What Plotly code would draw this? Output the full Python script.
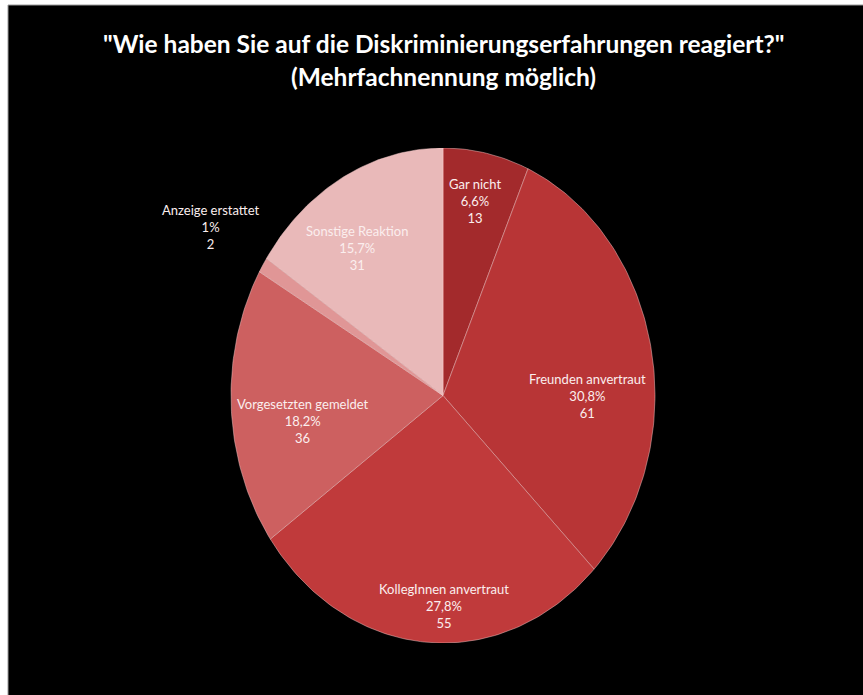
import numpy as np
import plotly.graph_objects as go

# Survey answers, clockwise from 12 o'clock
categories = ["Gar nicht", "Freunden anvertraut", "KollegInnen anvertraut",
              "Vorgesetzten gemeldet", "Anzeige erstattet", "Sonstige Reaktion"]
counts = [13, 61, 55, 36, 2, 31]
percent_labels = ["6,6%", "30,8%", "27,8%", "18,2%", "1%", "15,7%"]

colors = ["#a32a2c", "#b83536", "#c03a3b", "#cd6060", "#e09696", "#e9b9b9"]
# label placement: (angle nudge in degrees, radius as fraction of the pie)
label_place = [(-1, 0.80), (11, 0.68), (-5, 0.85), (-6, 0.67), (0, 1.29), (-6, 0.72)]

W, H = 863, 695
# pie centre and radii in pixels (the pie is drawn slightly taller than wide)
cx, cy, rx, ry = 443, 395.5, 212, 247.5
XSPAN = 1.6  # x axis reaches past the pie so outside labels stay visible

fig = go.Figure()

total = sum(counts)
fractions = [c / total for c in counts]
start = 0.0
mid_angles = []
for name, frac, col in zip(categories, fractions, colors):
    end = start + frac
    t = np.linspace(start, end, max(3, int(frac * 360))) * 2 * np.pi
    xs = np.concatenate([[0], np.sin(t), [0]])
    ys = np.concatenate([[0], np.cos(t), [0]])
    fig.add_trace(go.Scatter(
        x=xs, y=ys, mode="lines", fill="toself", fillcolor=col,
        line=dict(color="rgba(255,210,210,0.45)", width=1),
        name=name, hoverinfo="name", showlegend=False,
    ))
    mid_angles.append((start + end) / 2 * 360)
    start = end

for name, pct, cnt, mid, (nudge, r) in zip(categories, percent_labels, counts,
                                            mid_angles, label_place):
    a = np.radians(mid + nudge)
    fig.add_annotation(
        x=r * np.sin(a), y=r * np.cos(a), xref="x", yref="y",
        text=f"{name}<br>{pct}<br>{cnt}", showarrow=False,
        font=dict(family="Lato, Liberation Sans", size=13, color="#fbeeee"),
        align="center", yanchor="middle", xanchor="center",
    )

# black panel behind the chart
fig.add_shape(type="rect", xref="paper", yref="paper",
              x0=8 / W, x1=1.01, y0=-0.01, y1=1 - 5 / H,
              fillcolor="#000000", line=dict(color="#9a9a9a", width=1),
              layer="below")

fig.add_annotation(
    x=443 / W, y=1 - 43 / H, xref="paper", yref="paper", yanchor="middle",
    text='<b>"Wie haben Sie auf die Diskriminierungserfahrungen reagiert?"</b>',
    showarrow=False, font=dict(family="Lato", size=24.5, color="#ffffff"),
)
fig.add_annotation(
    x=443 / W, y=1 - 76 / H, xref="paper", yref="paper", yanchor="middle",
    text="<b>(Mehrfachnennung möglich)</b>",
    showarrow=False, font=dict(family="Lato", size=24.5, color="#ffffff"),
)

fig.update_layout(
    width=W, height=H,
    margin=dict(l=0, r=0, t=0, b=0),
    paper_bgcolor="#ffffff", plot_bgcolor="rgba(0,0,0,0)",
    xaxis=dict(range=[-XSPAN, XSPAN],
               domain=[(cx - XSPAN * rx) / W, (cx + XSPAN * rx) / W],
               visible=False, fixedrange=True),
    yaxis=dict(range=[-1, 1], domain=[1 - (cy + ry) / H, 1 - (cy - ry) / H],
               visible=False, fixedrange=True),
)

fig.write_html("out.html")
